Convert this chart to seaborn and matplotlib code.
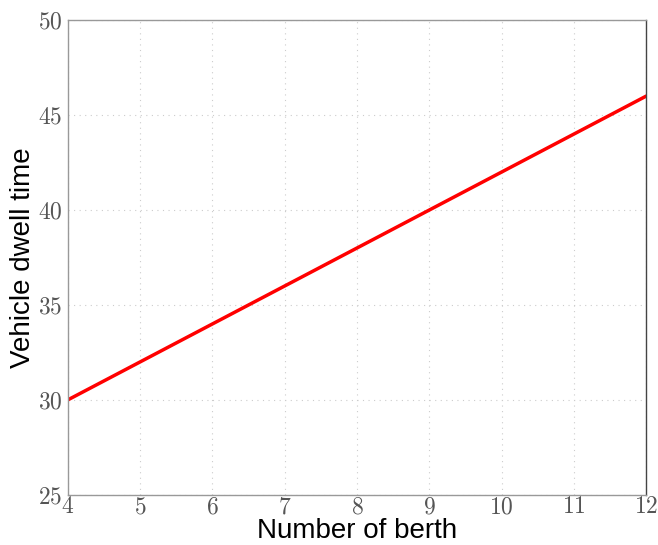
import matplotlib
matplotlib.use("Agg")
import matplotlib.pyplot as plt
from matplotlib.ticker import FuncFormatter
import seaborn as sns
import pandas as pd

berths = [4, 5, 6, 7, 8, 9, 10, 11, 12]
dwell_time = [30, 32, 34, 36, 38, 40, 42, 44, 46]

sns.set_style("white")
plt.rcParams['font.family'] = ['Liberation Sans', 'DejaVu Sans']
plt.rcParams['mathtext.fontset'] = 'cm'

df = pd.DataFrame({"berth": berths, "dwell": dwell_time})

fig, ax = plt.subplots(figsize=(6.58, 5.45), dpi=100)
fig.subplots_adjust(left=0.103, right=0.982, top=0.963, bottom=0.092)

sns.lineplot(data=df, x="berth", y="dwell", color="red", linewidth=2.5, ax=ax)

ax.set_xlim(4, 12)
ax.set_ylim(25, 50)
ax.set_xticks(range(4, 13))
ax.set_yticks(range(25, 51, 5))
fmt = FuncFormatter(lambda v, p: f"${v:g}$")
ax.xaxis.set_major_formatter(fmt)
ax.yaxis.set_major_formatter(fmt)
ax.tick_params(axis="both", labelsize=17, length=0, colors="#555555")
ax.tick_params(axis="x", pad=1)
ax.tick_params(axis="y", pad=4)
ax.grid(True, linestyle=(0, (1, 4)), color="#cccccc", linewidth=0.8)
for s in ax.spines.values():
    s.set_color("#999999")
    s.set_linewidth(1.0)
ax.spines["right"].set_color("#444444")

ax.set_xlabel("Number of berth", fontsize=20, labelpad=0, color="black")
ax.set_ylabel("Vehicle dwell time", fontsize=20, labelpad=1, color="black")

fig.savefig("out.png", dpi=100)
